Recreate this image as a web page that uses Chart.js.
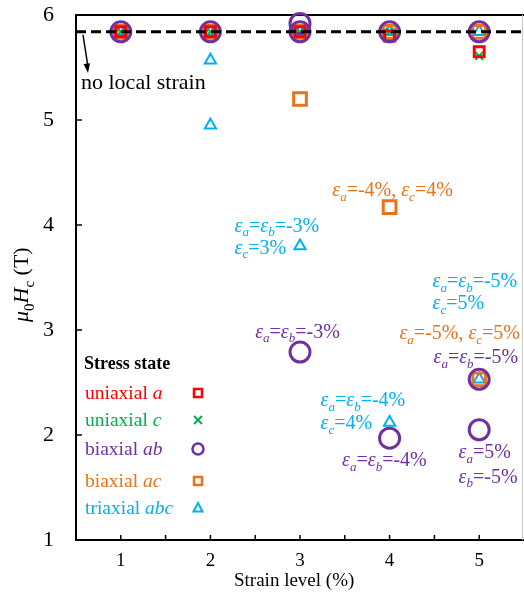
<!DOCTYPE html>
<html>
<head>
<meta charset="utf-8">
<script src="https://cdn.jsdelivr.net/npm/chart.js@4.4.0/dist/chart.umd.min.js"></script>
<style>
html, body { margin: 0; padding: 0; background: #fff; overflow: hidden; }
canvas { display: block; }
</style>
</head>
<body>
<canvas id="HcChart" width="524" height="597"></canvas>
<script>
// strain level (%) and coercive field (T) for every stress state
const uniaxialAX = [1, 2, 3, 4, 5];
const uniaxialAY = [5.84, 5.84, 5.84, 5.80, 5.65];
const uniaxialCX = [1, 2, 3, 4, 5];
const uniaxialCY = [5.84, 5.84, 5.84, 5.84, 5.61];
const biaxialABX = [1, 2, 3, 3, 3, 4, 4, 5, 5, 5];
const biaxialABY = [5.84, 5.84, 5.84, 5.92, 2.79, 5.84, 1.97, 5.84, 2.53, 2.05];
const biaxialACX = [1, 2, 3, 3, 4, 4, 5, 5];
const biaxialACY = [5.84, 5.84, 5.84, 5.20, 5.84, 4.17, 5.84, 2.53];
const triaxialX = [1, 2, 2, 2, 3, 3, 4, 4, 5, 5];
const triaxialY = [5.84, 5.84, 5.57, 4.95, 5.84, 3.80, 5.84, 2.12, 5.84, 2.53];
const noStrainHc = 5.84;
const xTickLabels = ['1', '2', '3', '4', '5'];

const RED = '#ff0000', GREEN = '#00b050', PURPLE = '#7030a0', ORANGE = '#e8731a', CYAN = '#00b0f0';
const FONT = '"Liberation Serif", "Times New Roman", serif';

// notes next to the points: text, colour, anchor in data units
const notes = [
    ['ε_a=ε_b=-3%', CYAN, 2.27, 4.00],
    ['ε_c=3%', CYAN, 2.27, 3.79],
    ['ε_a=-4%, ε_c=4%', ORANGE, 3.36, 4.34],
    ['ε_a=ε_b=-5%', CYAN, 4.48, 3.47],
    ['ε_c=5%', CYAN, 4.48, 3.26],
    ['ε_a=-5%, ε_c=5%', ORANGE, 4.11, 2.98],
    ['ε_a=ε_b=-5%', PURPLE, 4.49, 2.75],
    ['ε_a=ε_b=-3%', PURPLE, 2.50, 2.99],
    ['ε_a=ε_b=-4%', CYAN, 3.23, 2.34],
    ['ε_c=4%', CYAN, 3.23, 2.12],
    ['ε_a=ε_b=-4%', PURPLE, 3.47, 1.77],
    ['ε_a=5%', PURPLE, 4.77, 1.84],
    ['ε_b=-5%', PURPLE, 4.77, 1.61]
];

const legendItems = [
    ['uniaxial ', 'a', RED, 'square'],
    ['uniaxial ', 'c', GREEN, 'x'],
    ['biaxial ', 'ab', PURPLE, 'circle'],
    ['biaxial ', 'ac', ORANGE, 'square'],
    ['triaxial ', 'abc', CYAN, 'triangle']
];

function pts(xs, ys) {
    return xs.map((x, i) => ({x: x, y: ys[i]}));
}

// segments: [text, italic, subscript]
function drawSegs(ctx, segs, x, y, size, color) {
    let w = 0;
    const fontOf = s => (s[1] ? 'italic ' : '') + (s[2] ? Math.round(size * 0.66) : size) + 'px ' + FONT;
    segs.forEach(s => { ctx.font = fontOf(s); s.w = ctx.measureText(s[0]).width; w += s.w; });
    ctx.fillStyle = color;
    ctx.textBaseline = 'alphabetic';
    ctx.textAlign = 'left';
    let cx = x;
    const base = y + size * 0.33;
    segs.forEach(s => {
        ctx.font = fontOf(s);
        ctx.fillText(s[0], cx, base + (s[2] ? size * 0.24 : 0));
        cx += s.w;
    });
    return w;
}

function parseNote(str) {
    const segs = [];
    for (let i = 0; i < str.length; i++) {
        const ch = str[i];
        if (ch === '_') { segs.push([str[i + 1], true, true]); i++; }
        else if (ch === 'ε') segs.push([ch, true, false]);
        else segs.push([ch, false, false]);
    }
    return segs;
}

function marker(ctx, kind, x, y, color) {
    ctx.save();
    ctx.strokeStyle = color;
    ctx.lineWidth = 2.5;
    ctx.beginPath();
    if (kind === 'square') ctx.rect(x - 4, y - 4, 8, 8);
    if (kind === 'circle') ctx.arc(x, y, 5.5, 0, Math.PI * 2);
    if (kind === 'triangle') { ctx.lineWidth = 2; ctx.moveTo(x, y - 5); ctx.lineTo(x + 4.5, y + 3.5); ctx.lineTo(x - 4.5, y + 3.5); ctx.closePath(); }
    if (kind === 'x') { ctx.lineWidth = 2; ctx.moveTo(x - 4, y - 4); ctx.lineTo(x + 4, y + 4); ctx.moveTo(x + 4, y - 4); ctx.lineTo(x - 4, y + 4); }
    ctx.stroke();
    ctx.restore();
}

const decorations = {
    id: 'decorations',
    beforeDatasetsDraw(chart) {
        const ctx = chart.ctx;
        const a = chart.chartArea;
        // frame: top black, right thin grey
        ctx.save();
        ctx.strokeStyle = '#000';
        ctx.lineWidth = 2;
        ctx.beginPath();
        ctx.moveTo(a.left - 1, a.top);
        ctx.lineTo(a.right, a.top);
        ctx.stroke();
        ctx.strokeStyle = '#c8c8c8';
        ctx.lineWidth = 1;
        ctx.beginPath();
        ctx.moveTo(a.right - 1.5, a.top);
        ctx.lineTo(a.right - 1.5, a.bottom);
        ctx.stroke();
        ctx.restore();
    },
    afterDraw(chart) {
        const ctx = chart.ctx;
        const xs = chart.scales.x, ys = chart.scales.y;
        const a = chart.chartArea;
        ctx.save();
        // inward ticks
        ctx.strokeStyle = '#000';
        ctx.lineWidth = 1.5;
        xs.ticks.forEach(t => {
            const px = xs.getPixelForValue(t.value);
            ctx.beginPath();
            ctx.moveTo(px, a.bottom);
            ctx.lineTo(px, a.bottom - 5);
            ctx.stroke();
        });
        ys.ticks.forEach(t => {
            const py = ys.getPixelForValue(t.value);
            ctx.beginPath();
            ctx.moveTo(a.left, py);
            ctx.lineTo(a.left + 6, py);
            ctx.stroke();
        });

        // notes
        notes.forEach(n => {
            drawSegs(ctx, parseNote(n[0]), xs.getPixelForValue(n[2]), ys.getPixelForValue(n[3]), 20, n[1]);
        });

        // "no local strain" with arrow
        const lineY = ys.getPixelForValue(noStrainHc);
        drawSegs(ctx, [['no local strain', false, false]], 81, 82, 22, '#000');
        ctx.strokeStyle = '#000';
        ctx.fillStyle = '#000';
        ctx.lineWidth = 1.5;
        const x0 = a.left + 7, y0 = lineY + 3, x1 = a.left + 12, y1 = 73;
        ctx.beginPath();
        ctx.moveTo(x0, y0);
        ctx.lineTo(x1, y1 - 6);
        ctx.stroke();
        const ang = Math.atan2(y1 - y0, x1 - x0);
        ctx.beginPath();
        ctx.moveTo(x1, y1);
        ctx.lineTo(x1 - 10 * Math.cos(ang - 0.33), y1 - 10 * Math.sin(ang - 0.33));
        ctx.lineTo(x1 - 10 * Math.cos(ang + 0.33), y1 - 10 * Math.sin(ang + 0.33));
        ctx.closePath();
        ctx.fill();

        // legend
        ctx.font = 'bold 18px ' + FONT;
        ctx.fillStyle = '#000';
        ctx.textBaseline = 'alphabetic';
        ctx.fillText('Stress state', 84, 363 + 18 * 0.33);
        const legY = [393, 420, 449, 481, 508];
        legendItems.forEach((it, i) => {
            drawSegs(ctx, [[it[0], false, false], [it[1], true, false]], 85, legY[i], 19.5, it[2]);
            marker(ctx, it[3], 198, legY[i], it[2]);
        });

        // axis titles
        drawSegs(ctx, [['Strain level (%)', false, false]], 234, 580, 19, '#000');
        ctx.translate(21, 279);
        ctx.rotate(-Math.PI / 2);
        const tw = 86;
        drawSegs(ctx, [['μ', true, false], ['0', false, true], ['H', true, false], ['c', false, true], [' (T)', false, false]], -tw / 2, 0, 22, '#000');
        ctx.restore();
    }
};

const ctx = document.getElementById('HcChart').getContext('2d');

new Chart(ctx, {
    type: 'scatter',
    data: {
        datasets: [{
            type: 'line',
            data: [{x: 0.5, y: noStrainHc}, {x: 5.5, y: noStrainHc}],
            borderColor: '#000',
            borderWidth: 3,
            borderDash: [10, 5],
            pointRadius: 0,
            fill: false
        }, {
            label: 'biaxial ab',
            data: pts(biaxialABX, biaxialABY),
            pointStyle: 'circle',
            pointRadius: 10,
            borderColor: PURPLE,
            borderWidth: 3,
            backgroundColor: 'rgba(0,0,0,0)',
            clip: false
        }, {
            label: 'uniaxial a',
            data: pts(uniaxialAX, uniaxialAY),
            pointStyle: 'rect',
            pointRadius: 7,
            borderColor: RED,
            borderWidth: 3,
            backgroundColor: 'rgba(0,0,0,0)'
        }, {
            label: 'biaxial ac',
            data: pts(biaxialACX, biaxialACY),
            pointStyle: 'rect',
            pointRadius: 9,
            borderColor: ORANGE,
            borderWidth: 3,
            backgroundColor: 'rgba(0,0,0,0)'
        }, {
            label: 'uniaxial c',
            data: pts(uniaxialCX, uniaxialCY),
            pointStyle: 'crossRot',
            pointRadius: 5.5,
            borderColor: GREEN,
            borderWidth: 2,
            backgroundColor: 'rgba(0,0,0,0)'
        }, {
            label: 'triaxial abc',
            data: pts(triaxialX, triaxialY),
            pointStyle: 'triangle',
            pointRadius: 6.5,
            borderColor: CYAN,
            borderWidth: 2,
            backgroundColor: 'rgba(0,0,0,0)'
        }]
    },
    options: {
        responsive: false,
        animation: false,
        events: [],
        layout: {autoPadding: false, padding: {top: 15, right: 0, left: 0, bottom: 0}},
        plugins: {legend: {display: false}, tooltip: {enabled: false}},
        scales: {
            x: {
                type: 'linear',
                min: 0.5,
                max: 5.5,
                afterFit: s => { s.height = 57; s.paddingLeft = 0; s.paddingRight = 0; },
                afterBuildTicks: s => { s.ticks = []; for (let v = 1; v <= 5.001; v += 0.5) s.ticks.push({value: v}); },
                ticks: {
                    stepSize: 0.5,
                    autoSkip: false,
                    maxRotation: 0,
                    padding: 10,
                    color: '#000',
                    font: {family: FONT, size: 19},
                    callback: v => Number.isInteger(v) ? xTickLabels[v - 1] : ''
                },
                grid: {display: false, drawTicks: false},
                border: {display: true, color: '#000', width: 2}
            },
            y: {
                min: 1,
                max: 6,
                afterFit: s => { s.width = 76; s.paddingTop = 0; s.paddingBottom = 0; },
                ticks: {
                    stepSize: 1,
                    padding: 22,
                    color: '#000',
                    font: {family: FONT, size: 22}
                },
                grid: {display: false, drawTicks: false},
                border: {display: true, color: '#000', width: 2}
            }
        }
    },
    plugins: [decorations]
});
</script>
</body>
</html>
